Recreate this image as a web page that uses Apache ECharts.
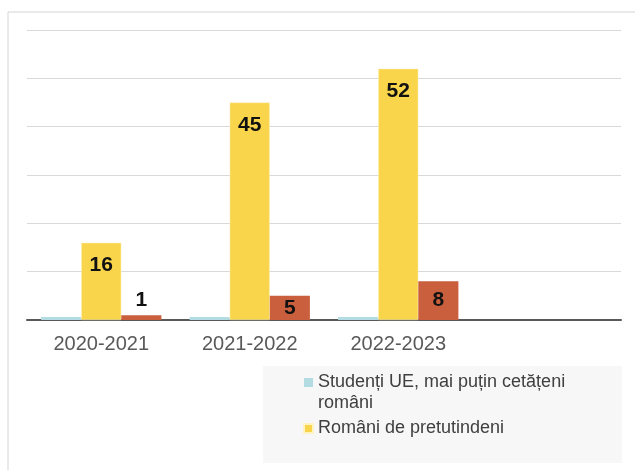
<!DOCTYPE html>
<html>
<head>
<meta charset="UTF-8">
<script src="https://cdn.jsdelivr.net/npm/echarts@6/dist/echarts.min.js"></script>
<style>
  html, body { margin: 0; padding: 0; background: #fff; }
  #c { width: 635px; height: 470px; }
</style>
</head>
<body>
<div id="c"></div>
<script>
// date
const years = ["2020-2021", "2021-2022", "2022-2023", ""];
const studentiUE = [0.6, 0.6, 0.6];
const romaniPretutindeni = [16, 45, 52];
const alti = [1, 5, 8];
const yTicks = [0, 10, 20, 30, 40, 50, 60];

const numeUE = "Studenți UE, mai puțin cetățeni";
const numeUE2 = "români"; // al doilea rand din legenda
const numeRP = "Români de pretutindeni";
const numeAlti = "Alți";

const font = "'Liberation Sans', Arial, sans-serif";

// eticheta: in bara daca incape, altfel deasupra
function orangeData(vals) {
    return vals.map(v => ({
        value: v,
        label: v < 3 ? { position: "top", distance: 4 } : { position: "inside" }
    }));
}

const chart = echarts.init(document.getElementById("c"), null, { renderer: "canvas" });
chart.setOption({
    animation: false,
    textStyle: { fontFamily: font },
    graphic: [
        { type: "rect", shape: { x: 8, y: 12, width: 700, height: 520 },
          style: { fill: "none", stroke: "#d4d4d4", lineWidth: 1 }, z: -10 },
        { type: "rect", shape: { x: 263, y: 366, width: 359, height: 97 },
          style: { fill: "#f7f7f7" }, z: -5 },
        { type: "text", left: 318, top: 394,
          style: { text: numeUE2, fontFamily: font, fontSize: 18, fill: "#404040" } }
    ],
    grid: { left: 27, right: 14, top: 30, bottom: 150, containLabel: false },
    legend: {
        data: [numeUE, numeRP],
        orient: "vertical",
        left: 298,
        top: 367,
        itemWidth: 9,
        itemHeight: 9,
        itemGap: 25,
        icon: "rect",
        textStyle: { fontFamily: font, fontSize: 18, lineHeight: 21, color: "#404040" }
    },
    xAxis: {
        type: "category",
        data: years,
        axisTick: { show: false },
        axisLine: { lineStyle: { color: "#595959", width: 2 } },
        axisLabel: { fontFamily: font, fontSize: 20, color: "#595959", margin: 14 }
    },
    yAxis: {
        type: "value",
        min: yTicks[0],
        max: yTicks[yTicks.length - 1],
        interval: 10,
        axisLabel: { show: false },
        axisLine: { show: false },
        axisTick: { show: false },
        splitLine: { lineStyle: { color: "#d9d9d9", width: 1 } }
    },
    series: [
        {
            name: numeUE, type: "bar", data: studentiUE,
            barGap: "0%", barCategoryGap: "19%",
            itemStyle: { color: "#b2dbe2" }
        },
        {
            name: numeRP, type: "bar", data: romaniPretutindeni,
            barGap: "0%", barCategoryGap: "19%",
            itemStyle: { color: "#f8d54a", borderColor: "#fff2c4", borderWidth: 0.5 },
            label: { show: true, position: "insideTop", distance: 12,
                     fontFamily: font, fontSize: 21, fontWeight: "bold", color: "#111" }
        },
        {
            name: numeAlti, type: "bar", data: orangeData(alti),
            barGap: "0%", barCategoryGap: "19%",
            itemStyle: { color: "#c95f3d" },
            label: { show: true, fontFamily: font, fontSize: 21, fontWeight: "bold", color: "#111" }
        }
    ]
});
</script>
</body>
</html>
